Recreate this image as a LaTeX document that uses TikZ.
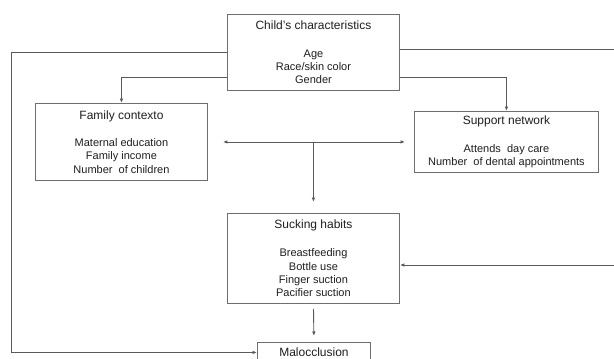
\documentclass[tikz,border=0pt]{standalone}
\usepackage{fontspec}
\setmainfont{Liberation Sans}
\usetikzlibrary{arrows.meta}
\definecolor{boxgray}{HTML}{6E6E6E}
\definecolor{linegray}{HTML}{5A5A5A}
\definecolor{txt}{HTML}{1E1E1E}
\tikzset{
  box/.style={draw=boxgray, line width=0.9pt, rectangle, inner sep=0pt, anchor=north west,
    align=center, text=txt, font=\fontsize{11}{13.3}\selectfont},
  conn/.style={draw=linegray, line width=0.9pt, -{Latex[length=4.5pt,width=3.6pt]}},
  dconn/.style={draw=linegray, line width=0.9pt, {Latex[length=4.5pt,width=3.6pt]}-{Latex[length=4.5pt,width=3.6pt]}},
  plain/.style={draw=linegray, line width=0.9pt}
}
\newcommand{\boxtitle}[1]{{\fontsize{12}{14}\selectfont #1}}
\begin{document}
\begin{tikzpicture}[x=1pt,y=-1pt]
\useasboundingbox (0,0) rectangle (614,359);
\clip (0,0) rectangle (614,359);

\node[box, minimum width=172pt, minimum height=76pt] (child) at (227,14)
  {\boxtitle{Child’s characteristics}\\[14.5pt]Age\\Race/skin color\\Gender};
\node[box, minimum width=172pt, minimum height=77pt] (family) at (35,103)
  {\boxtitle{Family contexto}\\[14pt]Maternal education\\Family income\\Number\ \ of children};
\node[box, minimum width=184pt, minimum height=61pt] (support) at (414,111)
  {\boxtitle{Support network}\\[15pt]Attends\ \ day\ care\\Number\ \ of dental appointments};
\node[box, minimum width=172pt, minimum height=90pt] (suck) at (227,213)
  {\boxtitle{Sucking habits}\\[15pt]Breastfeeding\\Bottle use\\Finger suction\\Pacifier suction};
\node[box, minimum width=113pt, minimum height=20pt, font=\fontsize{12}{14}\selectfont] (maloc) at (257,342)
  {Malocclusion};

% outer left loop to malocclusion
\coordinate (lc) at (11.5,52);
\draw[conn] (child.west |- lc) -- (lc) |- (maloc.west);
% outer right loop to sucking habits
\coordinate (rc) at (614,49);
\coordinate (rd) at (614,265);
\draw[conn] (child.east |- rc) -- (rc) -- (rd) -- (suck.east |- rd);
% child to family and support
\coordinate (cy) at (0,77);
\draw[conn] (child.west |- cy) -| (family.north);
\draw[conn] (child.east |- cy) -| (support.north);
% family <-> support
\draw[dconn, shorten <=15pt, shorten >=9pt] (family.east) -- (support.west);
\draw[conn, shorten >=11pt] (suck.north |- family.east) -- (suck.north);
% sucking to malocclusion
\draw[conn, shorten <=5pt, shorten >=6pt] (suck.south) -- (maloc.north);
\end{tikzpicture}
\end{document}
